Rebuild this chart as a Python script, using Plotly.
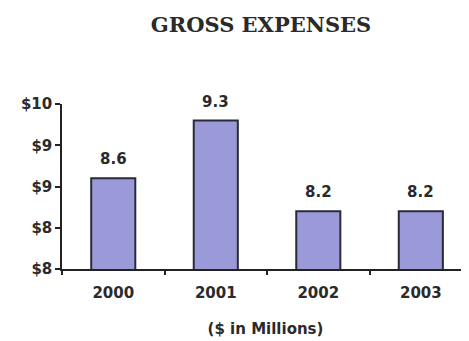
import plotly.graph_objects as go

years = ["2000", "2001", "2002", "2003"]
expenses = [8.6, 9.3, 8.2, 8.2]
labels = ["8.6", "9.3", "8.2", "8.2"]
y_tick_vals = [7.5, 8.0, 8.5, 9.0, 9.5]
y_tick_text = ["$8", "$8", "$9", "$9", "$10"]

font_sans = "DejaVu Sans, Verdana, sans-serif"
txt = "#2a2a2a"

fig = go.Figure()
fig.add_trace(go.Bar(
    x=years, y=expenses,
    width=0.43,
    marker=dict(color="#9a9ad8", line=dict(color="#2a2a3a", width=2)),
    hoverinfo="skip",
))

for i, (y, t) in enumerate(zip(expenses, labels)):
    fig.add_annotation(x=i, y=y, text="<b>" + t + "</b>", showarrow=False, yanchor="bottom",
                       yshift=8, font=dict(family=font_sans, size=15, color=txt))

fig.update_layout(
    width=461, height=333,
    margin=dict(l=54, r=0, t=96, b=72),
    paper_bgcolor="white", plot_bgcolor="white",
    showlegend=False,
    title=dict(text="<b>GROSS EXPENSES</b>", x=253 / 461, xref="container", xanchor="center",
               y=1 - 16.5 / 333, yref="container", yanchor="middle",
               font=dict(family="DejaVu Serif, Liberation Serif, serif", size=21, color=txt)),
)

fig.update_xaxes(
    type="category", range=[-0.5, 3.47],
    showline=True, linecolor="#222", linewidth=1.5,
    ticks="outside", tickson="boundaries", ticklen=4, tickcolor="#222", tickwidth=1.5,
    showgrid=False, zeroline=False,
    tickfont=dict(family=font_sans, size=15, color=txt),
    tickprefix="<b>", ticksuffix="</b>",
    ticklabelstandoff=9,
    title=dict(text="<b>($ in Millions)</b>", standoff=23,
               font=dict(family=font_sans, size=15, color=txt)),
)
fig.update_yaxes(
    range=[7.5, 9.5], tickvals=y_tick_vals, ticktext=["<b>" + t + "</b>" for t in y_tick_text],
    showline=True, linecolor="#222", linewidth=1.5,
    ticks="outside", ticklen=5, tickcolor="#222", tickwidth=1.5,
    showgrid=False, zeroline=False,
    tickfont=dict(family=font_sans, size=15, color=txt),
)

fig.write_html("out.html")
